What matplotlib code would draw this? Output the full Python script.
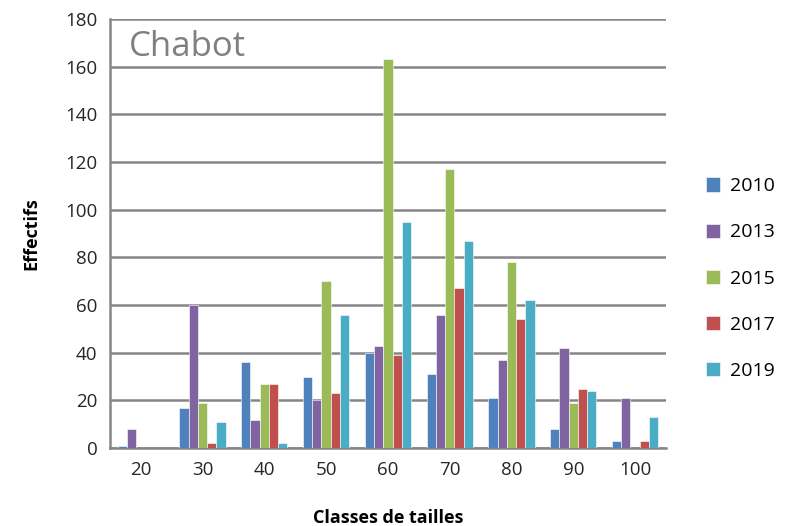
import matplotlib.pyplot as plt
import numpy as np

classes = ["20", "30", "40", "50", "60", "70", "80", "90", "100"]
years = ["2010", "2013", "2015", "2017", "2019"]
v2010 = [1, 17, 36, 30, 40, 31, 21, 8, 3]
v2013 = [8, 60, 12, 20, 43, 56, 37, 42, 21]
v2015 = [0, 19, 27, 70, 163, 117, 78, 19, 0]
v2017 = [0, 2, 27, 23, 39, 67, 54, 25, 3]
v2019 = [0, 11, 2, 56, 95, 87, 62, 24, 13]
colors = ["#4F81BD", "#8064A2", "#9BBB59", "#C0504D", "#4BACC6"]

plt.rcParams["font.family"] = ["Open Sans", "DejaVu Sans"]

fig = plt.figure(figsize=(7.9, 5.26), dpi=100)
ax = fig.add_axes([0.139, 0.148, 0.704, 0.816])

x = np.arange(len(classes))
width = 0.15
for i, (vals, year) in enumerate(zip([v2010, v2013, v2015, v2017, v2019], years)):
    ax.bar(x + (i - 2) * width, vals, width, color=colors[i], label=year,
           edgecolor="white", linewidth=0.4, zorder=3)

ax.set_xlim(-0.5, len(classes) - 0.5)
ax.set_ylim(0, 180)
ax.set_yticks(range(0, 181, 20))
ax.set_xticks(x)
ax.set_xticklabels(classes)
ax.tick_params(axis="both", labelsize=13.5, colors="#262626", length=0, pad=9)
ax.grid(axis="y", color="#868686", linewidth=1.8, zorder=0)
for s in ["top", "right"]:
    ax.spines[s].set_visible(False)
ax.spines["left"].set_color("#868686")
ax.spines["left"].set_linewidth(1.8)
ax.spines["bottom"].set_color("#868686")
ax.spines["bottom"].set_linewidth(1.8)

ax.set_xlabel("Classes de tailles", fontsize=13, fontweight="bold", labelpad=22)
ax.set_ylabel("Effectifs", fontsize=13, fontweight="bold", labelpad=18)
ax.text(0.035, 0.975, "Chabot", transform=ax.transAxes, fontsize=25,
        color="#808080", va="top", ha="left")

ax.legend(loc="center left", bbox_to_anchor=(1.04, 0.395), frameon=False,
          fontsize=14, handlelength=0.75, handleheight=0.75, labelspacing=1.45,
          handletextpad=0.5)

fig.savefig("out.png", dpi=100)
